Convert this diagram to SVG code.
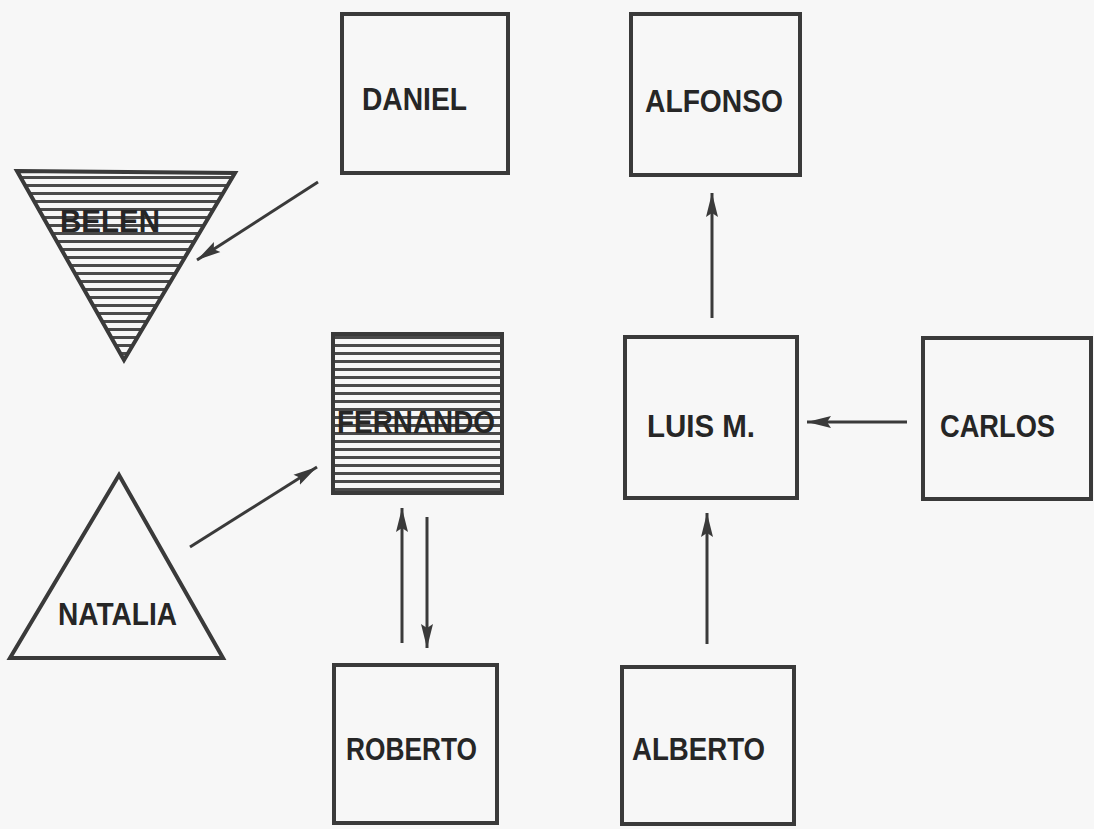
<svg xmlns="http://www.w3.org/2000/svg" width="1094" height="829" viewBox="0 0 1094 829">
<style>
.box{fill:#f7f7f7;stroke:#3a3a3a;stroke-width:4}
.hatch{fill:url(#stripes);stroke:#3a3a3a;stroke-width:4}
.lbl{font-family:"Liberation Sans",Arial,sans-serif;font-weight:bold;font-size:32px;fill:#262626}
.con{stroke:#3a3a3a;stroke-width:3;fill:none;marker-end:url(#ah)}
</style>
<defs>
<pattern id="stripes" patternUnits="userSpaceOnUse" width="10" height="8">
<rect width="10" height="8" fill="#f7f7f7"/>
<rect y="0" width="10" height="3" fill="#4a4a4a"/>
</pattern>
<marker id="ah" markerUnits="userSpaceOnUse" markerWidth="26" markerHeight="14" refX="24" refY="7" orient="auto">
<path d="M0,1 L24,7 L0,13 L4,7 Z" fill="#3a3a3a"/>
</marker>
</defs>
<rect width="1094" height="829" fill="#f7f7f7"/>
<g id="daniel"><rect class="box" x="342" y="14" width="166" height="159"/><text class="lbl" x="362" y="110" textLength="105" lengthAdjust="spacingAndGlyphs">DANIEL</text></g>
<g id="alfonso"><rect class="box" x="631" y="14" width="169" height="161"/><text class="lbl" x="645" y="112" textLength="138" lengthAdjust="spacingAndGlyphs">ALFONSO</text></g>
<g id="belen"><polygon class="hatch" points="17,171 235,173 124,360"/><text class="lbl" x="60" y="232" textLength="100" lengthAdjust="spacingAndGlyphs">BELEN</text></g>
<g id="fernando"><rect class="hatch" x="333" y="334" width="169" height="159"/><text class="lbl" x="337" y="433" textLength="158" lengthAdjust="spacingAndGlyphs">FERNANDO</text></g>
<g id="luis"><rect class="box" x="625" y="337" width="172" height="161"/><text class="lbl" x="647" y="437" textLength="108" lengthAdjust="spacingAndGlyphs">LUIS M.</text></g>
<g id="carlos"><rect class="box" x="923" y="338" width="168" height="161"/><text class="lbl" x="940" y="437" textLength="115" lengthAdjust="spacingAndGlyphs">CARLOS</text></g>
<g id="natalia"><polygon class="box" points="119,475 223,658 10,658"/><text class="lbl" x="58" y="625" textLength="119" lengthAdjust="spacingAndGlyphs">NATALIA</text></g>
<g id="roberto"><rect class="box" x="334" y="665" width="163" height="158"/><text class="lbl" x="346" y="760" textLength="131" lengthAdjust="spacingAndGlyphs">ROBERTO</text></g>
<g id="alberto"><rect class="box" x="622" y="667" width="172" height="157"/><text class="lbl" x="632" y="760" textLength="133" lengthAdjust="spacingAndGlyphs">ALBERTO</text></g>
<g id="connectors">
<line class="con" x1="318" y1="182" x2="197" y2="260"/>
<line class="con" x1="190" y1="547" x2="317" y2="467"/>
<line class="con" x1="402" y1="643" x2="402" y2="508"/>
<line class="con" x1="427" y1="517" x2="427" y2="648"/>
<line class="con" x1="712" y1="318" x2="712" y2="193"/>
<line class="con" x1="907" y1="422" x2="807" y2="422"/>
<line class="con" x1="707" y1="644" x2="707" y2="513"/>
</g>
</svg>
